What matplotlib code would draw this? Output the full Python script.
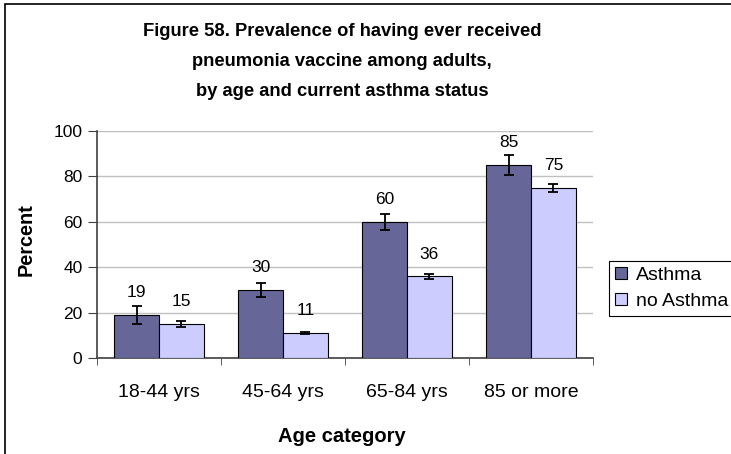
import matplotlib
matplotlib.use("Agg")
import matplotlib.pyplot as plt
from matplotlib.patches import Rectangle
import numpy as np

plt.rcParams['font.family'] = ['Liberation Sans', 'DejaVu Sans']

categories = ["18-44 yrs", "45-64 yrs", "65-84 yrs", "85 or more"]
asthma = [19, 30, 60, 85]
no_asthma = [15, 11, 36, 75]
asthma_err = [4.0, 3.0, 3.5, 4.5]
no_asthma_err = [1.4, 0.5, 1.0, 1.7]
series_names = ["Asthma", "no Asthma"]

W, H = 731, 454
fig = plt.figure(figsize=(W / 100, H / 100), dpi=100)

# outer chart frame
fig.patches.append(Rectangle((5 / W, -0.01), 1.0, 1 - 4 / H + 0.01, transform=fig.transFigure,
                             fill=False, edgecolor='black', linewidth=1.2))

ax = fig.add_axes([97 / W, 1 - 358 / H, (593 - 97) / W, (358 - 131) / H])

x = np.arange(len(categories))
bw = 0.36
ekw = dict(ecolor='black', elinewidth=1.3, capsize=3.5, capthick=1.3)
b1 = ax.bar(x - bw / 2, asthma, bw, color='#666699', edgecolor='black', linewidth=0.8,
            yerr=asthma_err, error_kw=ekw, label=series_names[0], zorder=3)
b2 = ax.bar(x + bw / 2, no_asthma, bw, color='#CCCCFF', edgecolor='black', linewidth=0.8,
            yerr=no_asthma_err, error_kw=ekw, label=series_names[1], zorder=3)

for bars, vals in ((b1, asthma), (b2, no_asthma)):
    for rect, v in zip(bars, vals):
        ax.annotate(f"{v}", (rect.get_x() + rect.get_width() / 2, v),
                    xytext=(0, 16), textcoords='offset points',
                    ha='center', va='center', fontsize=12.5)

ax.set_xlim(-0.5, len(categories) - 0.5)
ax.set_ylim(0, 100)
ax.set_yticks(np.arange(0, 101, 20))
ax.set_xticks(x)
ax.set_xticklabels(categories, fontsize=14)
ax.set_xticks(np.arange(-0.5, len(categories), 1), minor=True)
ax.tick_params(axis='x', which='major', length=0, pad=19)
ax.tick_params(axis='x', which='minor', length=5, color='#404040', direction='out')
ax.tick_params(axis='y', length=6.5, color='#404040', labelsize=12.5, pad=4)

ax.grid(axis='y', color='#C0C0C0', linewidth=1, zorder=0)
ax.set_axisbelow(True)
for side in ('top', 'right'):
    ax.spines[side].set_visible(False)
for side in ('left', 'bottom'):
    ax.spines[side].set_color('#404040')
    ax.spines[side].set_linewidth(1.2)

fig.text(26 / W, 1 - 240 / H, "Percent", rotation=90, ha='center', va='center',
         fontsize=14.3, fontweight='bold')
fig.text(342 / W, 1 - 436 / H, "Age category", ha='center', va='center',
         fontsize=14.5, fontweight='bold')

title_lines = ["Figure 58. Prevalence of having ever received",
               "pneumonia vaccine among adults,",
               "by age and current asthma status"]
for i, line in enumerate(title_lines):
    fig.text(342 / W, 1 - (32 + 30 * i) / H, line, ha='center', va='center',
             fontsize=13.2, fontweight='bold')

leg = fig.legend(handles=[b1, b2], labels=series_names, loc='upper left',
                 bbox_to_anchor=(609 / W, 1 - 261 / H), fontsize=14,
                 frameon=True, fancybox=False, edgecolor='black', framealpha=1,
                 handlelength=0.62, handleheight=0.62, handletextpad=0.45,
                 borderpad=0.3, labelspacing=0.45, borderaxespad=0)
leg.get_frame().set_linewidth(0.8)

fig.savefig("out.png", dpi=100)
